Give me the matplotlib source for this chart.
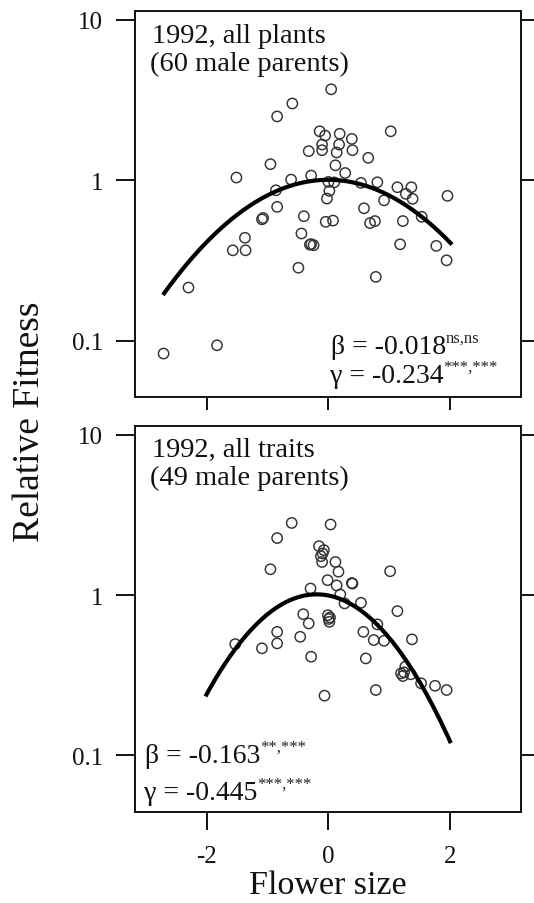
import matplotlib
matplotlib.use("Agg")
import matplotlib.pyplot as plt
import numpy as np
from matplotlib.ticker import NullLocator

plt.rcParams['font.family'] = ['Liberation Serif', 'DejaVu Serif']

# ---- data ----
# 1992, all plants (60 male parents)
plants_x = [0.05, -0.59, -0.84, -0.14, -0.05, 0.19, 0.39, 1.03, -0.10, 0.18,
            -0.32, -0.10, 0.14, 0.40, 0.66, -0.95, 0.12, -1.51, 0.28, -0.28,
            -0.61, 0.005, 0.54, 0.81, 1.14, 1.37, -0.86, 0.02, -0.02, 0.92,
            1.28, 1.39, 1.965, -0.84, 0.59, -0.40, -1.09, -0.04, 0.08, 0.69,
            0.77, 1.23, 1.54, -1.37, -1.57, -1.36, -0.44, -0.30, -0.24, -0.49,
            1.185, 1.78, 1.95, 0.785, -2.30, -1.83, -2.71, -1.07, -0.28, 0.10]
plants_y = [3.69, 3.01, 2.50, 2.02, 1.90, 1.95, 1.81, 2.02, 1.67, 1.67,
            1.52, 1.54, 1.49, 1.54, 1.38, 1.26, 1.24, 1.04, 1.11, 1.07,
            1.01, 0.977, 0.963, 0.972, 0.905, 0.905, 0.866, 0.859, 0.769, 0.750,
            0.823, 0.766, 0.800, 0.683, 0.669, 0.597, 0.571, 0.551, 0.561, 0.541,
            0.557, 0.557, 0.592, 0.438, 0.366, 0.366, 0.466, 0.397, 0.394, 0.285,
            0.399, 0.390, 0.317, 0.250, 0.2145, 0.0937, 0.0832, 0.582, 0.40, 0.97]

# 1992, all traits (49 male parents)
traits_x = [-0.60, 0.04, -0.84, -0.15, -0.07, -0.09, -0.10, 0.12, -0.95, 0.17,
            1.02, -0.01, 0.14, 0.39, 0.40, -0.29, 0.20, 0.27, 0.54, -0.41,
            -0.32, -0.005, 0.03, 0.02, 1.14, -0.84, -0.46, 0.58, 0.81, -0.84,
            0.75, 0.92, 1.38, -1.53, -1.09, -0.28, 0.62, 1.27, 1.20, 1.23,
            1.36, 1.53, 1.76, 1.95, 0.785, -0.06, 0.01, 1.25, -0.12]
traits_y = [2.82, 2.76, 2.27, 2.02, 1.91, 1.82, 1.61, 1.61, 1.45, 1.40,
            1.41, 1.24, 1.15, 1.19, 1.18, 1.10, 1.01, 0.888, 0.896, 0.761,
            0.666, 0.750, 0.726, 0.682, 0.795, 0.590, 0.550, 0.590, 0.657, 0.500,
            0.525, 0.519, 0.530, 0.495, 0.466, 0.413, 0.403, 0.358, 0.325, 0.313,
            0.321, 0.282, 0.272, 0.256, 0.256, 0.236, 0.71, 0.33, 1.75]

# fitted quadratic curves on log10 scale: log10(w) = h - k*(x - x0)^2
plants_fit = dict(h=0.003, k=0.097, x0=0.0, xmin=-2.72, xmax=2.04)
traits_fit = dict(h=0.005, k=0.19, x0=-0.19, xmin=-2.02, xmax=2.02)

beta_text = ["\u03b2 = -0.018", "\u03b2 = -0.163"]
beta_sup = ["ns,ns", "**,***"]
gamma_text = ["\u03b3 = -0.234", "\u03b3 = -0.445"]
gamma_sup = ["***,***", "***,***"]

xticks = [-2, 0, 2]
xtick_labels = ["-2", "0", "2"]
yticks = [0.1, 1, 10]
ytick_labels = ["0.1", "1", "10"]

# ---- layout (pixel based) ----
W, H = 534, 904
fig = plt.figure(figsize=(W / 100, H / 100), dpi=100)


def fx(px):
    return px / W


def fy(py):
    return 1 - py / H


ax1 = fig.add_axes([fx(135), fy(398), (520.7 - 135) / W, (398 - 11.7) / H])
ax2 = fig.add_axes([fx(135), fy(812.7), (520.7 - 135) / W, (812.7 - 426.7) / H])

panels = [(ax1, plants_x, plants_y, plants_fit),
          (ax2, traits_x, traits_y, traits_fit)]

for i, (ax, xs, ys, fit) in enumerate(panels):
    ax.scatter(xs, ys, s=55, facecolors='none', edgecolors='#333333',
               linewidths=1.05, zorder=2)
    xc = np.linspace(fit['xmin'], fit['xmax'], 200)
    yc = 10 ** (fit['h'] - fit['k'] * (xc - fit['x0']) ** 2)
    ax.plot(xc, yc, color='black', lw=3.0, solid_capstyle='butt', zorder=3)

    ax.set_yscale('log')
    ax.set_xlim(-3.18, 3.17)
    ax.set_ylim(0.0446, 11.4)
    ax.set_yticks(yticks)
    ax.set_yticklabels(ytick_labels)
    ax.yaxis.set_minor_locator(NullLocator())
    ax.set_xticks(xticks)
    if i == 1:
        ax.set_xticklabels(xtick_labels)
        xlen = 13
    else:
        ax.set_xticklabels([])
        xlen = 9
    ax.tick_params(axis='y', which='major', direction='out', length=14,
                   width=1.4, labelsize=18, pad=9, right=True, colors='#111')
    ax.tick_params(axis='x', which='major', direction='out', length=xlen,
                   width=1.4, labelsize=18, pad=11, colors='#111')
    for sp in ax.spines.values():
        sp.set_linewidth(1.4)
        sp.set_color('#111')

# panel titles
fig.text(fx(152), fy(42.7), "1992, all plants", fontsize=20.5,
         va='baseline', ha='left', color='#111')
fig.text(fx(150), fy(71), "(60 male parents)", fontsize=20.5,
         va='baseline', ha='left', color='#111')
fig.text(fx(152), fy(456.7), "1992, all traits", fontsize=20.5,
         va='baseline', ha='left', color='#111')
fig.text(fx(150), fy(485.5), "(49 male parents)", fontsize=20.5,
         va='baseline', ha='left', color='#111')

# coefficient lines with superscripts
coef_pos = [[(331, 354), (330, 383)], [(145, 763), (144, 800)]]
renderer = fig.canvas.get_renderer()
for i in range(2):
    for (main, sup), (px, py) in zip([(beta_text[i], beta_sup[i]),
                                      (gamma_text[i], gamma_sup[i])],
                                     coef_pos[i]):
        t = fig.text(fx(px), fy(py), main, fontsize=20, va='baseline',
                     ha='left', color='#111')
        bb = t.get_window_extent(renderer)
        fig.text(bb.x1 / fig.bbox.width, fy(py - 11), sup, fontsize=12,
                 va='baseline', ha='left', color='#222')

# axis labels
fig.text(fx(30), fy(422), "Relative Fitness", rotation=90, fontsize=27,
         ha='center', va='center', color='#111')
fig.text(fx(328), fy(894), "Flower size", fontsize=24.5, ha='center',
         va='baseline', color='#111')

fig.savefig("out.png", dpi=100)
plt.close(fig)
